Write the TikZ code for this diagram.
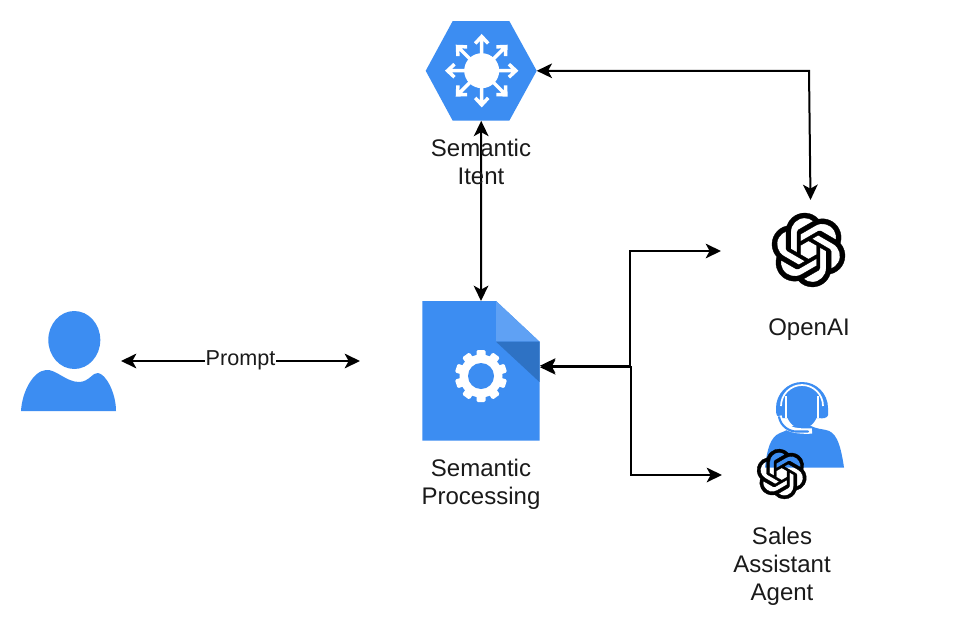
\documentclass[tikz,border=0pt]{standalone}
\usepackage{fontspec}
\setmainfont{Liberation Sans}
\usetikzlibrary{arrows.meta,svg.path}
\definecolor{gblue}{HTML}{3C8DF2}
\definecolor{glight}{HTML}{5FA1F4}
\definecolor{gdark}{HTML}{2E72C4}
\definecolor{txt}{HTML}{1A1A1A}
\newcommand{\oailogo}[4]{%
  \begin{scope}[shift={(#1,#2)},scale=#3,yscale=-1,xshift=-12pt,yshift=-12pt]
    \filldraw[black,line width=#4,even odd rule] svg "M 22.2819 9.8211 A 5.9847 5.9847 0 0 0 21.7662 4.9103 A 6.0462 6.0462 0 0 0 15.2564 2.0103 A 6.0651 6.0651 0 0 0 4.9807 4.1818 A 5.9847 5.9847 0 0 0 0.983 7.0818 A 6.0462 6.0462 0 0 0 1.7257 14.1784 A 5.98 5.98 0 0 0 2.2367 19.0891 A 6.051 6.051 0 0 0 8.7513 21.9892 A 5.9847 5.9847 0 0 0 13.2599 24 A 6.0557 6.0557 0 0 0 19.0317 19.7942 A 5.9894 5.9894 0 0 0 23.0294 16.8941 A 6.0557 6.0557 0 0 0 22.2819 9.8211 Z
    M 13.2599 22.4292 A 4.4755 4.4755 0 0 1 10.3835 21.3884 L 10.5254 21.308 L 15.3037 18.5498 A 0.7948 0.7948 0 0 0 15.6964 17.8685 L 15.6964 11.1316 L 17.7164 12.3002 L 17.7544 12.3522 L 17.7544 17.9348 A 4.504 4.504 0 0 1 13.2599 22.4292 Z
    M 3.5992 18.3038 A 4.4708 4.4708 0 0 1 3.0646 15.2901 L 3.2066 15.3753 L 7.9896 18.1335 A 0.7712 0.7712 0 0 0 8.7702 18.1335 L 14.613 14.765 L 14.613 17.0974 L 14.5798 17.1589 L 9.74 19.9502 A 4.4992 4.4992 0 0 1 3.5992 18.3038 Z
    M 2.3408 7.8956 A 4.485 4.485 0 0 1 4.7063 5.9228 L 4.7063 11.6 A 0.7664 0.7664 0 0 0 5.0942 12.2765 L 10.9086 15.6308 L 8.8885 16.7993 L 8.8175 16.7993 L 3.9872 14.0128 A 4.504 4.504 0 0 1 2.3408 7.8956 Z
    M 18.9371 11.7514 L 13.1038 8.364 L 15.1192 7.2 L 15.1902 7.2 L 20.0205 9.9913 A 4.4944 4.4944 0 0 1 19.344 18.0955 L 19.344 12.4183 A 0.79 0.79 0 0 0 18.9371 11.7514 Z
    M 20.9477 8.7282 L 20.8057 8.643 L 16.0322 5.8612 A 0.7759 0.7759 0 0 0 15.2468 5.8612 L 9.409 9.2297 L 9.409 6.8974 L 9.4374 6.8359 L 14.2677 4.0493 A 4.4992 4.4992 0 0 1 20.9477 8.7282 Z
    M 8.3065 12.863 L 6.2865 11.6992 L 6.2485 11.6425 L 6.2485 6.0742 A 4.4992 4.4992 0 0 1 13.6242 2.6205 L 13.4822 2.701 L 8.704 5.459 A 0.7948 0.7948 0 0 0 8.3113 6.1403 L 8.3065 12.863 Z
    M 9.4041 10.4976 L 12.0061 8.9978 L 14.613 10.4976 L 14.613 13.497 L 12.0156 14.9967 L 9.4089 13.497 Z";
  \end{scope}}
\tikzset{
  tip/.tip={Stealth[length=11.5pt,width=11pt,inset=3pt]},
  link/.style={draw=black,line width=1.5pt,{tip}-{tip}},
  lbl/.style={text=txt,align=center,font=\fontsize{18pt}{21pt}\selectfont,inner sep=0pt},
  anchorbox/.style={inner sep=0pt,outer sep=0pt}
}
\begin{document}
\begin{tikzpicture}[x=0.75pt,y=-0.75pt]
\useasboundingbox (0,0) rectangle (974,628);
\fill[white] (0,0) rectangle (974,628);

% hexagon
\node[anchorbox,minimum width=83.25pt,minimum height=75pt] (intent) at (481.2,70.8) {};
\fill[gblue] (425.7,70.8) -- (452.7,21) -- (509.3,21) -- (536.7,70.8) -- (509.3,120.7) -- (452.7,120.7) -- cycle;
\foreach \a in {0,45,...,315}{
  \draw[white,line width=2.6pt,rotate around={\a:(481.7,70.7)}]
    (481.7,70.7) -- (481.7,36.5) (475.2,43.5) -- (481.7,36.5) -- (488.2,43.5);
}
\fill[white] (481.7,70.7) circle[radius=17.5];

% document
\node[anchorbox,minimum width=88.5pt,minimum height=105pt] (doc) at (481,371) {};
\fill[gblue] (422.3,301) -- (496,301) -- (539.5,341.7) -- (539.5,440.7) -- (422.3,440.7) -- cycle;
\fill[glight] (496,301) -- (539.5,341.7) -- (496,341.7) -- cycle;
\fill[gdark] (496,341.7) -- (539.5,341.7) -- (539.5,382) -- cycle;
\foreach \a in {0,36,...,324}{
  \fill[white,rotate around={\a:(481,376)},rounded corners=1pt] (476.5,350) rectangle (485.5,366);
}
\fill[white] (481,376) circle[radius=21.5];
\fill[gblue] (481,376) circle[radius=13];

% person
\node[anchorbox,minimum width=71.25pt,minimum height=75pt] (user) at (68.5,361) {};
\fill[gblue] (74.3,340) ellipse[x radius=26,y radius=29];
\fill[gblue] (21,411) .. controls (22,392) and (33,371) .. (46,370)
  .. controls (56,369) and (66,382) .. (79,382)
  .. controls (89,382) and (93,372) .. (98,373)
  .. controls (106,374) and (116,393) .. (116,411) -- cycle;

% agent
\fill[gblue] (765,467.5) .. controls (767,450) and (770,437) .. (780,433)
  .. controls (786,431) and (790,428) .. (793,426) -- (811,426)
  .. controls (817,429) and (822,429) .. (826,430)
  .. controls (835,432) and (840,440) .. (844,467.5) -- cycle;
\fill[gblue] (776,408) arc[start angle=180,end angle=360,radius=26] -- (828,415)
  .. controls (828,418) and (822,419) .. (819,418) -- (785,418) .. controls (781,419) and (776,417) .. (776,412) -- cycle;
\draw[white,line width=1.3pt] (781,406) arc[start angle=180,end angle=360,radius=21];
\fill[gblue] (802,410) ellipse[x radius=16,y radius=18.5];
\draw[white,line width=1.2pt] (786,396) -- (786,418) (818,396) -- (818,418);
\draw[white,line width=4pt] (779,416) .. controls (781,427) and (790,432) .. (812,431);
\draw[gblue,line width=1.6pt,line cap=round] (779,417) .. controls (781,427) and (790,431.5) .. (796,431.5) -- (808,431.5);

% logos
\node[anchorbox,minimum width=56pt,minimum height=56pt] (openai) at (808.5,250) {};
\oailogo{808.5}{250}{2.31}{0.25pt}
\node[anchorbox,minimum width=60pt,minimum height=60pt] (agent) at (782,475) {};
\oailogo{781.7}{474}{1.56}{0.25pt}

% connectors
\coordinate (openaiTop) at (810.5,200);
\coordinate (openaiLeft) at (721,251);
\coordinate (agentLeft) at (722,475);
\coordinate (promptEnd) at (360,361);
\coordinate (userEnd) at (121,361);
\coordinate (docA) at (540,365.7);
\coordinate (docB) at (540,367.2);
\draw[link] (intent.south) -- (doc.north);
\draw[link] (intent.east) -- (809,70.8) -- (openaiTop);
\draw[link] (docA) -- (630,365.7) -- (630,251) -- (openaiLeft);
\draw[link] (docB) -- (631,367.2) -- (631,475) -- (agentLeft);
\draw[link] (userEnd) -- node[fill=white,inner sep=0.5pt,yshift=0.75pt,text=txt,font=\fontsize{16.2pt}{18pt}\selectfont] (promptLabel) {Prompt} (promptEnd);

% labels
\node[lbl] (l1) at (481,162.3) {Semantic\\Itent};
\node[lbl] (l2) at (809,330) {OpenAI};
\node[lbl] (l3) at (481,484) {Semantic\\Processing};
\node[lbl] (l4) at (782,566) {Sales\\Assistant\\Agent};
\end{tikzpicture}
\end{document}
